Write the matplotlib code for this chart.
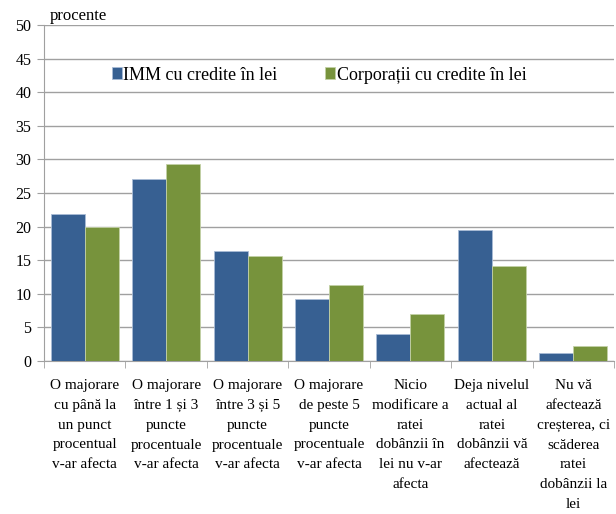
import matplotlib
matplotlib.use("Agg")
import matplotlib.pyplot as plt
import numpy as np

categories = [
    "O majorare\ncu până la\nun punct\nprocentual\nv-ar afecta",
    "O majorare\nîntre 1 și 3\npuncte\nprocentuale\nv-ar afecta",
    "O majorare\nîntre 3 și 5\npuncte\nprocentuale\nv-ar afecta",
    "O majorare\nde peste 5\npuncte\nprocentuale\nv-ar afecta",
    "Nicio\nmodificare a\nratei\ndobânzii în\nlei nu v-ar\nafecta",
    "Deja nivelul\nactual al\nratei\ndobânzii vă\nafectează",
    "Nu vă\nafectează\ncreșterea, ci\nscăderea\nratei\ndobânzii la\nlei",
]
imm = [21.9, 27.1, 16.3, 9.3, 4.0, 19.5, 1.2]
corp = [20.0, 29.3, 15.6, 11.3, 7.0, 14.2, 2.3]
series_names = ["IMM cu credite în lei", "Corporații cu credite în lei"]
yticks = list(range(0, 51, 5))

plt.rcParams['font.family'] = ['Liberation Serif', 'DejaVu Serif']

fig = plt.figure(figsize=(6.16, 5.14), dpi=100)
ax = fig.add_axes([44/616, 1-361/514, (614-44)/616, 336/514])

x = np.arange(len(categories))
w = 0.4167
ax.bar(x - w/2, imm, w, color='#376092', edgecolor='#a9bcd6', linewidth=0.6, label=series_names[0], zorder=3)
ax.bar(x + w/2, corp, w, color='#77933c', edgecolor='#c3d1a6', linewidth=0.6, label=series_names[1], zorder=3)

ax.set_xlim(-0.5, len(categories) - 0.5)
ax.set_ylim(0, 50)
ax.set_yticks(yticks)
ax.set_yticklabels([str(t) for t in yticks], fontsize=11.5)
ax.yaxis.grid(True, color='#a0a0a0', linewidth=1.0, zorder=0)
ax.set_axisbelow(True)

ax.set_xticks(x)
ax.set_xticklabels(categories, fontsize=11, linespacing=1.68)
ax.tick_params(axis='x', length=0, pad=13)
ax.set_xticks(np.arange(-0.5, len(categories)), minor=True)
ax.tick_params(axis='x', which='minor', length=5, color='#a0a0a0')
ax.tick_params(axis='y', length=5, color='#a0a0a0', pad=4)

for s in ['top', 'right']:
    ax.spines[s].set_visible(False)
for s in ['left', 'bottom']:
    ax.spines[s].set_color('#a0a0a0')

ax.text(6/570, 1.0 + 0.004, "procente", transform=ax.transAxes, fontsize=12, ha='left', va='bottom')

leg = ax.legend(loc='center left', bbox_to_anchor=(0.119, 0.851), ncol=2, frameon=False,
                fontsize=13, handlelength=0.55, handleheight=0.67, handletextpad=0.08,
                columnspacing=2.65, borderpad=0, borderaxespad=0)

fig.savefig("out.png", dpi=100)
